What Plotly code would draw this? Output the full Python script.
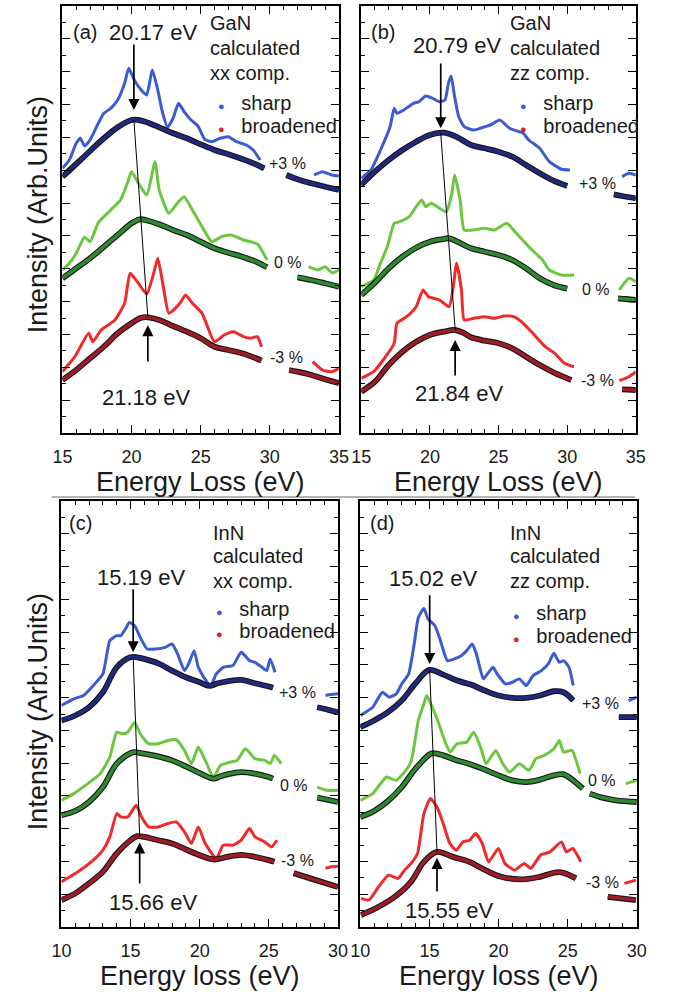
import numpy as np
import plotly.graph_objects as go

# ---------------- data (energy in eV, intensity in arbitrary units) ----------------
# Panel (a): GaN, xx component
A_SHARP_P3_E = [15.0, 15.5, 16.0, 16.3, 16.6, 17.0, 17.5, 18.0, 18.5, 19.0, 19.5, 19.8, 20.2, 20.7, 21.1, 21.5, 21.9, 22.2, 22.6, 23.0, 23.4, 23.8, 24.3, 24.8, 25.3, 25.8, 26.4, 27.0, 27.6, 28.3, 28.8, 29.3, None, 33.2, 33.8, 34.5, 35.0]
A_SHARP_P3_I = [264.7, 273, 289.7, 294.7, 287, 293, 307, 319.7, 324.7, 333, 349.7, 364.7, 353, 343, 338, 363, 343, 323, 305.7, 314.7, 329.7, 321.3, 313, 307, 293.7, 291.3, 294.7, 296.3, 291.3, 288, 283, 273, None, 258, 261.3, 258, 257]
A_BROAD_P3_E = [15, 16, 17, 18, 19, 20, 20.5, 21, 22, 23, 24, 25, 26, 27, 28, 29, 29.6, None, 31.2, 32, 33, 34, 35]
A_BROAD_P3_I = [256.3, 269, 282, 294.7, 305.7, 313, 313, 311.3, 305.7, 299.7, 294.7, 288.7, 283, 278.7, 274, 268.7, 264.7, None, 258, 253.7, 249.7, 246.3, 243]
A_SHARP_0_E = [15.0, 15.5, 16.0, 16.6, 17.0, 17.6, 18.5, 19.2, 19.7, 20.0, 20.5, 21.1, 21.7, 22.0, 22.7, 23.3, 23.8, 24.4, 25.1, 25.8, 26.5, 27.2, 28.1, 29.1, 29.8, None, 32.8, 33.5, 34.0, 34.5, 35.0]
A_SHARP_0_I = [163, 169.7, 179.7, 195.7, 191.3, 210.3, 223, 233, 249.7, 261.3, 249.7, 238, 271.3, 243, 219.7, 229.7, 236.3, 223, 206.3, 191.3, 196.3, 198, 193, 189, 173, None, 166.3, 163, 166.3, 160.3, 163]
A_BROAD_0_E = [15, 16, 17, 18, 19, 20, 20.6, 21, 22, 23, 24, 25, 26, 27, 28, 29, 29.8, None, 32, 33, 34, 35]
A_BROAD_0_I = [154.7, 164.7, 174.7, 186.3, 198, 209.7, 213.7, 213, 208.7, 203, 198, 191.3, 184.7, 180.3, 176.3, 171.3, 165.7, None, 155.7, 153, 149.7, 146.3]
A_SHARP_M3_E = [15.0, 15.9, 16.9, 17.2, 17.8, 18.8, 19.5, 19.9, 20.5, 21.1, 21.6, 21.9, 22.3, 22.7, 23.5, 23.9, 24.4, 25.1, 26.0, 26.7, 27.4, 28.1, 28.6, 29.1, 29.4, None, 33.1, 33.8, 34.5, 35.0]
A_SHARP_M3_I = [61.3, 76.3, 99.7, 91.3, 103, 113, 129.7, 159.7, 149.7, 139, 159.7, 174.7, 146.3, 119.7, 129.7, 138, 129.7, 119.7, 91.3, 98, 101.3, 96.3, 94.7, 96.3, 86.3, None, 71.3, 63, 61.3, 64.7]
A_BROAD_M3_E = [15, 16, 17, 18, 19, 20, 20.7, 21.2, 22, 23, 24, 25, 26, 27, 28, 29, 29.4, None, 31.4, 32, 33, 34, 35]
A_BROAD_M3_I = [53, 63, 74.7, 86.3, 99.7, 109.7, 115.3, 115.7, 113, 107, 101.3, 94.7, 86.3, 83, 79.7, 74.7, 72.3, None, 63, 61.3, 58, 53.7, 49.7]

# Panel (b): GaN, zz component
B_SHARP_P3_E = [15.0, 15.7, 16.4, 17.1, 17.4, 17.6, 18.1, 18.8, 19.2, 19.7, 20.2, 20.7, 21.1, 21.35, 21.55, 21.8, 22.1, 22.5, 23.2, 24.0, 24.4, 25.1, 25.8, 26.8, 27.2, 28.0, 28.7, 29.6, 30.2, None, 34.0, 34.5, 35.0]
B_SHARP_P3_I = [254.7, 263, 283, 306.3, 324.7, 319.7, 323, 329.7, 331.3, 337, 334.7, 331.3, 333, 349.7, 357, 336.3, 316.3, 306.3, 303, 306.3, 308, 313, 304.7, 299.7, 293, 284.7, 271.3, 263.7, 263, None, 256.3, 259.7, 258]
B_BROAD_P3_E = [15, 16, 17, 18, 19, 20, 21, 22, 23, 24, 25, 26, 27, 28, 29, 30, None, 33.4, 34, 35]
B_BROAD_P3_I = [248, 261.3, 273, 283, 291.3, 298, 300.3, 295.7, 288, 284.7, 281.3, 276.3, 268, 259.7, 252.3, 247, None, 238.7, 237, 234.7]
B_SHARP_0_E = [15.0, 15.9, 16.4, 16.9, 17.4, 17.8, 18.5, 19.0, 19.4, 19.7, 20.1, 20.7, 21.2, 21.6, 21.8, 22.2, 22.5, 23.2, 24.0, 24.7, 25.6, 26.3, 27.2, 28.2, 28.7, 29.6, 30.5, None, 33.8, 34.5, 35.0]
B_SHARP_0_I = [146.3, 153, 169.7, 186.3, 209.7, 211.3, 216.3, 226.3, 233, 226.3, 229.7, 224.7, 221.3, 239.7, 258, 233, 203, 203, 204.7, 203, 209.7, 199.7, 186.3, 173, 163, 158, 158, None, 143, 154.7, 151.3]
B_BROAD_0_E = [15, 16, 17, 18, 19, 20, 21, 21.4, 22, 23, 24, 25, 26, 27, 28, 29, 30, None, 33.7, 34.3, 35]
B_BROAD_0_I = [138, 150.3, 164.7, 176.3, 185.3, 191.3, 194, 194.7, 191.3, 184.7, 181.3, 178, 173, 164.7, 154.7, 148, 144.3, None, 134.7, 134, 133]
B_SHARP_M3_E = [15.0, 15.9, 16.6, 17.4, 17.6, 18.3, 19.0, 19.5, 19.9, 20.7, 21.4, 21.7, 21.95, 22.3, 22.5, 23.2, 24.0, 24.7, 25.4, 26.1, 26.8, 27.5, 28.4, 29.1, 29.8, 30.5, None, 33.8, 34.5, 35.0]
B_SHARP_M3_I = [54.7, 61.3, 73, 89.7, 109.7, 116.3, 126.3, 143, 136.3, 133, 126.3, 146.3, 169.7, 143, 113, 114.7, 116.3, 114.7, 117, 116.3, 109.7, 99.7, 86.3, 79.7, 69.7, 66.3, None, 52.3, 56.3, 61.3]
B_BROAD_M3_E = [15, 16, 17, 18, 19, 20, 21, 21.84, 22.5, 23, 24, 25, 26, 27, 28, 29, 30, 30.3, None, 34, 35]
B_BROAD_M3_I = [41.3, 51.3, 68, 81.3, 91.3, 98, 101.3, 103, 99.7, 95.7, 92.3, 89.7, 84.7, 76.3, 68, 60.7, 54.7, 53, None, 43.7, 43]

# Panel (c): InN, xx component
C_SHARP_P3_E = [10.0, 10.9, 11.6, 12.3, 13.0, 13.5, 14.0, 14.3, 14.7, 14.9, 15.3, 15.7, 16.2, 16.8, 17.5, 18.0, 18.4, 18.9, 19.2, 19.6, 19.9, 20.3, 20.8, 21.2, 21.7, 22.4, 23.0, 23.6, 24.0, 24.5, 24.85, 25.1, 25.45, None, 29.1, 29.5, 30.0]
C_SHARP_P3_I = [222, 228.7, 232, 242, 253.7, 287, 292, 292, 300.3, 305.3, 302, 290.3, 278.7, 278.7, 280.3, 283.7, 273.7, 257, 263.7, 277, 260.3, 250.3, 242, 253.7, 260.3, 262, 275.3, 267, 265.3, 260.3, 257, 268.7, 255.3, None, 232, 233, 233.7]
C_BROAD_P3_E = [10, 11, 12, 13, 14, 15, 15.5, 16, 17, 18, 19, 20, 20.7, 21.3, 22, 23, 24, 25, 25.3, None, 28.5, 29.3, 30]
C_BROAD_P3_I = [207, 212, 220.3, 235.3, 260.3, 270.3, 270.3, 268.7, 264.3, 257, 250.3, 245.3, 241.7, 244.3, 246.3, 247.7, 244.3, 241, 239.7, None, 220.3, 217.7, 215.3]
C_SHARP_0_E = [10.0, 10.9, 11.9, 12.8, 13.5, 14.0, 14.4, 14.8, 15.3, 15.7, 16.3, 17.0, 17.7, 18.3, 18.9, 19.4, 19.9, 20.4, 21.0, 21.5, 22.2, 22.7, 23.3, 24.0, 24.7, 25.1, 25.4, 25.9, None, 28.5, 29.2, 30.0]
C_SHARP_0_I = [127, 133.7, 143.7, 153.7, 170.3, 195.3, 193.7, 195.3, 205.3, 193.7, 183.7, 183.7, 187, 187.7, 177, 163.7, 180.3, 167, 150.3, 162, 165.3, 167, 178.7, 168.7, 167, 163.7, 172, 163.7, None, 140.3, 137, 137]
C_BROAD_0_E = [10, 11, 12, 13, 14, 15, 15.3, 16, 17, 18, 19, 20, 21, 21.5, 22, 23, 24, 25, 25.3, None, 28.5, 29.2, 30]
C_BROAD_0_I = [112, 116.3, 125.3, 140.3, 163.7, 174.3, 175.3, 173.7, 171, 167, 161, 154.3, 148.7, 151, 153, 155.3, 153.7, 150.3, 148.7, None, 129.7, 127.7, 125.3]
C_SHARP_M3_E = [10.0, 11.2, 12.3, 13.0, 13.5, 14.0, 14.3, 14.8, 15.4, 15.8, 16.3, 17.0, 17.7, 18.3, 18.9, 19.4, 19.9, 20.4, 21.2, 21.7, 22.4, 23.0, 23.6, 24.0, 24.7, 25.2, 25.6, None, 29.1, 29.5, 30.0]
C_SHARP_M3_I = [45.3, 55.3, 67, 77, 90.3, 113.7, 110.3, 110.3, 122, 110.3, 100.3, 100.3, 103.7, 105.3, 95.3, 83.7, 100.3, 83.7, 68.7, 82, 82, 87, 98.7, 90.3, 85.3, 80.3, 87, None, 58.7, 60.3, 61]
C_BROAD_M3_E = [10, 11, 12, 13, 14, 15, 15.5, 16, 17, 18, 19, 20, 21, 21.5, 22, 23, 24, 25, 25.4, None, 26.8, 28.4, 30]
C_BROAD_M3_I = [27, 33.7, 43.7, 55.3, 73.7, 87, 91, 90.3, 87, 83.7, 77.7, 72, 67.7, 68.7, 70.3, 72.3, 70.3, 67, 65.3, None, 54, 47, 40]

# Panel (d): InN, zz component
D_SHARP_P3_E = [10.0, 10.9, 11.6, 12.1, 12.6, 13.0, 13.5, 13.9, 14.2, 14.6, 14.9, 15.4, 15.8, 16.3, 16.8, 17.3, 17.7, 18.1, 18.4, 18.9, 19.2, 19.6, 19.9, 20.5, 21.0, 21.5, 22.0, 22.5, 23.1, 23.6, 24.0, 24.4, 24.7, 25.1, 25.4, None, 29.4, 30.0]
D_SHARP_P3_I = [212, 220.3, 235.3, 230.3, 233.7, 243.7, 253.7, 283.7, 310.3, 319.3, 308.7, 302, 287, 267, 268.7, 272, 277, 283.7, 273.7, 248.7, 253.7, 260.3, 253.7, 243.7, 245.3, 248.7, 242, 252, 257, 263.7, 274.3, 265.3, 267, 260.3, 242, None, 227, 230.3]
D_BROAD_P3_E = [10, 11, 12, 13, 14, 15, 16, 17, 18, 19, 20, 21, 22, 23, 24, 24.7, 25.4, None, 28.7, 30]
D_BROAD_P3_I = [200.3, 207, 215.3, 227, 244.3, 257.7, 253, 247, 243, 237, 232, 229.7, 229.7, 232, 236.3, 235.3, 227, None, 210.3, 210.3]
D_SHARP_0_E = [10.0, 10.9, 11.9, 12.6, 13.3, 13.7, 14.2, 14.6, 14.8, 15.1, 15.6, 16.1, 16.5, 17.0, 17.7, 18.2, 18.7, 19.1, 19.8, 20.3, 20.8, 21.5, 22.2, 22.7, 23.3, 24.0, 24.4, 24.7, 25.3, 25.9, None, 29.2, 30.0]
D_SHARP_0_I = [127, 133.7, 150.3, 147, 157, 167, 207, 223.7, 232, 223.7, 207, 187, 175.3, 183.7, 185.3, 195.3, 180.3, 163.7, 177, 163.7, 155.3, 163.7, 157, 168.7, 172, 178.7, 187, 175.3, 177, 153.7, None, 143.7, 147]
D_BROAD_0_E = [10, 11, 12, 13, 14, 15, 15.3, 16, 17, 18, 19, 20, 21, 22, 23, 24, 24.7, 25.4, 26.1, None, 26.6, 27.5, 28.5, 30]
D_BROAD_0_I = [110.3, 116.3, 126.3, 140.3, 158.7, 173, 174.3, 172, 167, 163, 157.7, 152, 147, 145.3, 147.7, 152, 153, 147, 138.7, None, 133.7, 129.7, 127, 125.3]
D_SHARP_M3_E = [10.05, 10.63, 11.33, 12.04, 12.74, 13.2, 13.67, 14.14, 14.6, 15.07, 15.55, 16.0, 16.48, 16.95, 17.42, 17.9, 18.35, 18.82, 19.28, 19.99, 20.46, 21.16, 21.86, 22.33, 23.03, 23.73, 24.55, 24.9, 25.37, 25.95, None, 29.1, 29.93]
D_SHARP_M3_I = [28.7, 27, 40.3, 52, 48.7, 57, 63.7, 73.7, 113.7, 128.7, 120.3, 103.7, 83.7, 77, 85.3, 87, 93.7, 83.7, 65.3, 78.7, 63.7, 57, 63.7, 58.7, 72, 75.3, 85.3, 75.3, 78.7, 65.3, None, 43.7, 47]
D_BROAD_M3_E = [10.05, 11.33, 12.5, 13.67, 14.6, 15.55, 16.7, 17.9, 19.05, 20.2, 21.6, 23.0, 24.4, 25.6, None, 27.9, 29.93]
D_BROAD_M3_I = [12, 20.3, 30.3, 45.3, 65.3, 75.3, 70.3, 65.3, 57, 50.3, 47.7, 50.3, 55, 48.7, None, 30.3, 27]

# Plasmon peak positions of the broadened spectra (+3 % and -3 % strain)
PEAK_E_TOP = [20.17, 20.79, 15.19, 15.02]
PEAK_E_BOTTOM = [21.18, 21.84, 15.66, 15.55]

STRAIN_LABELS = ["+3 %", "0 %", "-3 %"]
PANEL_LETTERS = ["(a)", "(b)", "(c)", "(d)"]
MATERIALS = ["GaN", "GaN", "InN", "InN"]
COMPONENTS = ["xx comp.", "zz comp.", "xx comp.", "zz comp."]
X_RANGES = [[15, 35], [15, 35], [10, 30], [10, 30]]
X_TITLES = ["Energy Loss (eV)", "Energy Loss (eV)", "Energy loss (eV)", "Energy loss (eV)"]
Y_TITLE = "Intensity (Arb.Units)"

SERIES = {
    "a": [(A_SHARP_P3_E, A_SHARP_P3_I, A_BROAD_P3_E, A_BROAD_P3_I),
          (A_SHARP_0_E, A_SHARP_0_I, A_BROAD_0_E, A_BROAD_0_I),
          (A_SHARP_M3_E, A_SHARP_M3_I, A_BROAD_M3_E, A_BROAD_M3_I)],
    "b": [(B_SHARP_P3_E, B_SHARP_P3_I, B_BROAD_P3_E, B_BROAD_P3_I),
          (B_SHARP_0_E, B_SHARP_0_I, B_BROAD_0_E, B_BROAD_0_I),
          (B_SHARP_M3_E, B_SHARP_M3_I, B_BROAD_M3_E, B_BROAD_M3_I)],
    "c": [(C_SHARP_P3_E, C_SHARP_P3_I, C_BROAD_P3_E, C_BROAD_P3_I),
          (C_SHARP_0_E, C_SHARP_0_I, C_BROAD_0_E, C_BROAD_0_I),
          (C_SHARP_M3_E, C_SHARP_M3_I, C_BROAD_M3_E, C_BROAD_M3_I)],
    "d": [(D_SHARP_P3_E, D_SHARP_P3_I, D_BROAD_P3_E, D_BROAD_P3_I),
          (D_SHARP_0_E, D_SHARP_0_I, D_BROAD_0_E, D_BROAD_0_I),
          (D_SHARP_M3_E, D_SHARP_M3_I, D_BROAD_M3_E, D_BROAD_M3_I)],
}

# ---------------- style ----------------
W, H = 673, 992
FONT = "Liberation Sans, Arial, sans-serif"
INK = "#1a1a1a"
SHARP_COLORS = ["#3d5bd0", "#6cc63e", "#ee2a2a"]
BROAD_COLORS = ["#1f2a7c", "#2e8a30", "#9e1c26"]
Y_MAX = 427.0

# panel boxes in pixels: (left, right, top, bottom)
BOXES = [(54, 339, 6, 433), (362, 645, 6, 433), (53, 338, 501, 927), (361, 646, 501, 927)]

# per-panel placement of annotations (data units of each panel)
LETTER_POS = [(16.6, 401), (16.55, 401), (11.35, 405), (11.6, 405)]
TOP_TEXT_POS = [(21.55, 401), (22.0, 388), (15.75, 350), (15.26, 349)]
BOTTOM_TEXT_POS = [(21.05, 36), (22.14, 40), (16.6, 25), (16.4, 17)]
TOP_ARROW = [(10, 390), (5, 371), (5, 340), (6, 334)]      # (tip gap above peak, tail height)
BOTTOM_ARROW = [(-8, 70), (-10, 56), (-6, 42), (-6, 34)]   # (tip gap below peak, tail height)
LEGEND_X = [(25.5, 26.1), (25.67, 26.4), (20.8, 21.0), (20.67, 20.9)]  # (text block x, marker row x)
LEGEND_Y = [(410, 385, 360, 330, 307), (410, 385, 360, 330, 307),
            (395, 372, 347, 319, 297), (395, 372, 347, 315, 292)]
STRAIN_POS = [
    [(31.3, 270), (31.3, 171), (31.2, 76)],
    [(32.2, 250), (32.1, 144), (32.2, 53)],
    [(27.1, 235), (26.85, 142), (27.1, 67)],
    [(27.4, 224), (27.5, 147), (27.5, 45)],
]

fig = go.Figure()


def peak_height(e_list, i_list, e0):
    e = np.array([v for v in e_list if v is not None], dtype=float)
    i = np.array([v for v in i_list if v is not None], dtype=float)
    return float(np.interp(e0, e, i))


def font(size):
    return dict(family=FONT, size=size, color=INK)


for p, key in enumerate(["a", "b", "c", "d"]):
    n = "" if p == 0 else str(p + 1)
    xref, yref = "x" + n, "y" + n
    for s, (se, si, be, bi) in enumerate(SERIES[key]):
        fig.add_trace(go.Scatter(x=se, y=si, mode="lines", xaxis=xref, yaxis=yref,
                                 line=dict(color=SHARP_COLORS[s], width=3, shape="spline", smoothing=0.5),
                                 showlegend=False, hoverinfo="skip"))
        fig.add_trace(go.Scatter(x=be, y=bi, mode="lines", xaxis=xref, yaxis=yref,
                                 line=dict(color="#151515", width=5.8, shape="spline", smoothing=1.0),
                                 showlegend=False, hoverinfo="skip"))
        fig.add_trace(go.Scatter(x=be, y=bi, mode="lines", xaxis=xref, yaxis=yref,
                                 line=dict(color=BROAD_COLORS[s], width=3.6, shape="spline", smoothing=1.0),
                                 showlegend=False, hoverinfo="skip"))

    top_be, top_bi = SERIES[key][0][2], SERIES[key][0][3]
    bot_be, bot_bi = SERIES[key][2][2], SERIES[key][2][3]
    y_top = peak_height(top_be, top_bi, PEAK_E_TOP[p])
    y_bot = peak_height(bot_be, bot_bi, PEAK_E_BOTTOM[p])

    # thin guide line joining the two plasmon peaks
    fig.add_trace(go.Scatter(x=[PEAK_E_TOP[p], PEAK_E_BOTTOM[p]], y=[y_top, y_bot], mode="lines",
                             xaxis=xref, yaxis=yref, line=dict(color="black", width=1),
                             showlegend=False, hoverinfo="skip"))

    # arrows to the peaks
    fig.add_annotation(x=PEAK_E_TOP[p], y=y_top + TOP_ARROW[p][0], ax=PEAK_E_TOP[p], ay=TOP_ARROW[p][1],
                       xref=xref, yref=yref, axref=xref, ayref=yref, text="", showarrow=True,
                       arrowhead=2, arrowsize=1.3, arrowwidth=1.7, arrowcolor="black")
    fig.add_annotation(x=PEAK_E_BOTTOM[p], y=y_bot + BOTTOM_ARROW[p][0], ax=PEAK_E_BOTTOM[p],
                       ay=BOTTOM_ARROW[p][1], xref=xref, yref=yref, axref=xref, ayref=yref, text="",
                       showarrow=True, arrowhead=2, arrowsize=1.3, arrowwidth=1.7, arrowcolor="black")

    txt = dict(xref=xref, yref=yref, showarrow=False, yanchor="middle")
    fig.add_annotation(x=LETTER_POS[p][0], y=LETTER_POS[p][1], text=PANEL_LETTERS[p],
                       xanchor="center", font=font(20), **txt)
    fig.add_annotation(x=TOP_TEXT_POS[p][0], y=TOP_TEXT_POS[p][1], text=f"{PEAK_E_TOP[p]:.2f} eV",
                       xanchor="center", font=font(22), **txt)
    fig.add_annotation(x=BOTTOM_TEXT_POS[p][0], y=BOTTOM_TEXT_POS[p][1], text=f"{PEAK_E_BOTTOM[p]:.2f} eV",
                       xanchor="center", font=font(22), **txt)

    # legend block
    lx, mx = LEGEND_X[p]
    ly = LEGEND_Y[p]
    for text, yy in zip([MATERIALS[p], "calculated", COMPONENTS[p]], ly[:3]):
        fig.add_annotation(x=lx, y=yy, text=text, xanchor="left", font=font(20), **txt)
    fig.add_annotation(x=mx, y=ly[3], xanchor="left",
                       text="<span style='color:#3d5bd0;font-size:11px'>●</span>&nbsp;&nbsp; sharp",
                       font=font(20), **txt)
    fig.add_annotation(x=mx, y=ly[4], xanchor="left",
                       text="<span style='color:#e02020;font-size:11px'>●</span>&nbsp;&nbsp; broadened",
                       font=font(20), **txt)

    for s, lab in enumerate(STRAIN_LABELS):
        fig.add_annotation(x=STRAIN_POS[p][s][0], y=STRAIN_POS[p][s][1], text=lab,
                           xanchor="center", font=font(16), **txt)

    # axes
    l, r, t, b = BOXES[p]
    axis_common = dict(showline=True, linecolor="black", linewidth=1.6, mirror="ticks",
                       ticks="inside", ticklen=8, tickwidth=1.4, tickcolor="black",
                       showgrid=False, zeroline=False)
    fig.update_layout(**{
        "xaxis" + n: dict(domain=[l / W, r / W], range=X_RANGES[p], tick0=0, dtick=5,
                          anchor=yref, tickfont=font(18), ticklabelstandoff=7,
                          minor=dict(dtick=1, ticks="inside", ticklen=4, tickwidth=1.2, tickcolor="black"),
                          **axis_common),
        "yaxis" + n: dict(domain=[1 - b / H, 1 - t / H], range=[0, Y_MAX], tick0=0, dtick=Y_MAX / 13,
                          anchor=xref, showticklabels=False,
                          minor=dict(dtick=Y_MAX / 26, ticks="inside", ticklen=4, tickwidth=1.2, tickcolor="black"),
                          **axis_common),
    })

    fig.add_annotation(x=(l + r) / 2 / W, y=1 - (b + 49) / H, xref="paper", yref="paper",
                       xanchor="center", yanchor="middle",
                       text=X_TITLES[p], showarrow=False, font=font(27))

# y axis titles on the left column
for yc in [215, 712]:
    fig.add_annotation(x=29 / W, y=1 - yc / H, xref="paper", yref="paper", text=Y_TITLE, textangle=-90,
                       xanchor="center", yanchor="middle", showarrow=False, font=font(27))

# divider between the two rows
fig.add_shape(type="line", xref="paper", yref="paper", x0=43 / W, x1=644 / W,
              y0=1 - 497 / H, y1=1 - 497 / H, line=dict(color="#666666", width=1))

fig.update_layout(width=W, height=H, margin=dict(l=0, r=0, t=0, b=0),
                  paper_bgcolor="white", plot_bgcolor="white", showlegend=False)

fig.write_html("out.html")
